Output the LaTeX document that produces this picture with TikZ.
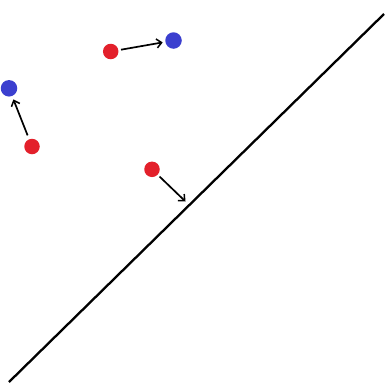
\documentclass[tikz,border=0pt]{standalone}
\usetikzlibrary{arrows.meta}
\definecolor{dotred}{HTML}{E3202B}
\definecolor{dotblue}{HTML}{3B3FCF}
\tikzset{
  reddot/.style={circle,fill=dotred,inner sep=0pt,minimum size=15.5pt},
  bluedot/.style={circle,fill=dotblue,inner sep=0pt,minimum size=16.5pt},
  movearrow/.style={line width=1.7pt,-{Straight Barb[length=5pt,width=9pt,line width=1.5pt]},shorten <=2.5pt,shorten >=2.5pt},
  boundary/.style={line width=2.3pt}
}
\begin{document}
\begin{tikzpicture}[x=1pt,y=-1pt]
\useasboundingbox[fill=white] (0,0) rectangle (387,383);
\coordinate (l1) at (9,382);
\coordinate (l2) at (384,14);
\draw[boundary] (l1) -- (l2);
\node[reddot] (r1) at (110.7,51.5) {};
\node[bluedot] (b1) at (173.5,40.5) {};
\node[bluedot] (b2) at (9,88.3) {};
\node[reddot] (r2) at (32,146.5) {};
\node[reddot] (r3) at (152,169.3) {};
\coordinate (t3) at (185.5,201.5);
\draw[movearrow] (r1) -- (b1);
\draw[movearrow,shorten <=4pt,shorten >=3.5pt] (r2) -- (b2);
\draw[movearrow,shorten >=0pt] (r3) -- (t3);
\end{tikzpicture}
\end{document}
